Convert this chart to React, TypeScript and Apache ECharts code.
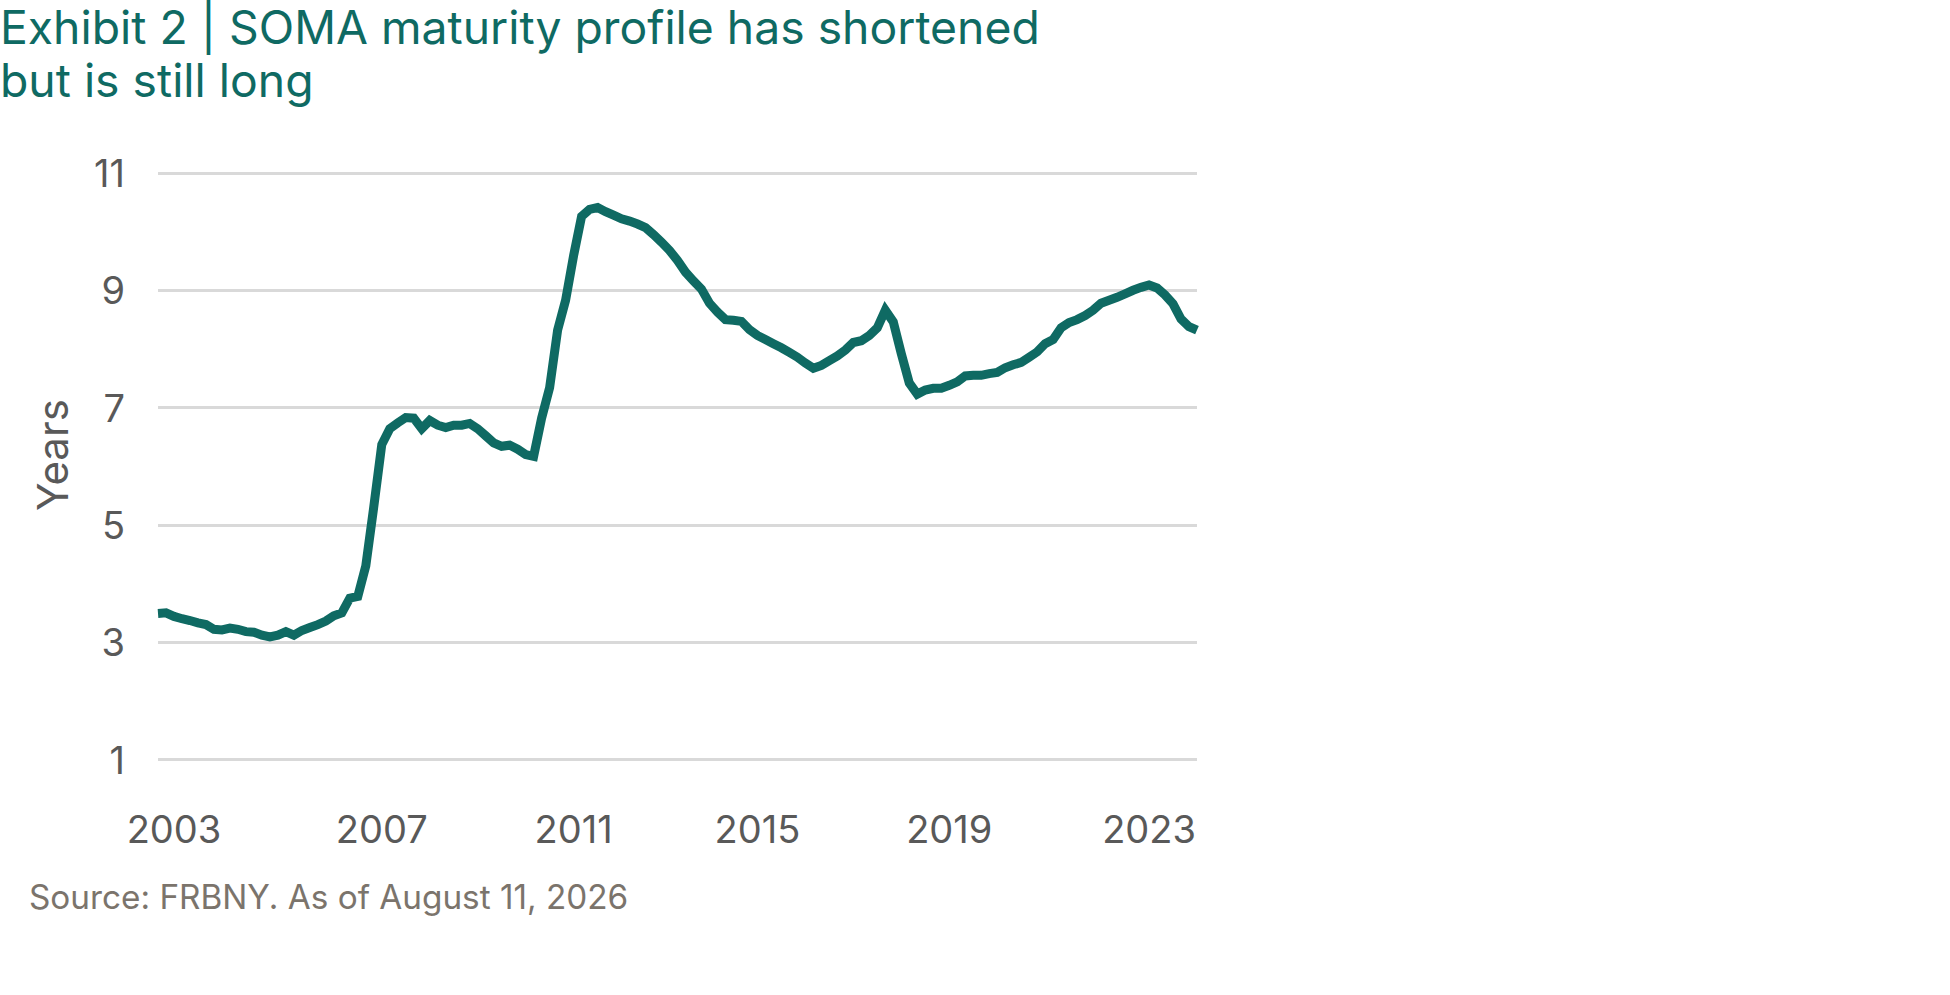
import React, { useEffect, useRef } from "react";
import * as echarts from "echarts";

// Tick labels and the observation index at which each one sits
const tickLabels = ["2003", "2007", "2011", "2015", "2019", "2023"];
const tickIndex = [2, 28, 52, 75, 99, 124];
const tickYears = [2003, 2007, 2011, 2015, 2019, 2023];

// Weighted average maturity of SOMA holdings, years
const maturityYears = [
  3.49, 3.5, 3.44, 3.4, 3.37, 3.33, 3.3, 3.22, 3.21, 3.24,
  3.22, 3.18, 3.17, 3.12, 3.09, 3.12, 3.18, 3.12, 3.2, 3.25,
  3.3, 3.36, 3.45, 3.5, 3.75, 3.78, 4.3, 5.31, 6.37, 6.64,
  6.74, 6.83, 6.82, 6.64, 6.78, 6.7, 6.66, 6.7, 6.7, 6.73,
  6.64, 6.52, 6.4, 6.34, 6.36, 6.29, 6.2, 6.17, 6.82, 7.34,
  8.32, 8.83, 9.59, 10.26, 10.38, 10.41, 10.34, 10.28, 10.22, 10.18,
  10.13, 10.07, 9.95, 9.82, 9.68, 9.51, 9.31, 9.16, 9.02, 8.78,
  8.63, 8.5, 8.49, 8.47, 8.33, 8.23, 8.16, 8.09, 8.02, 7.94,
  7.86, 7.76, 7.67, 7.72, 7.8, 7.88, 7.98, 8.11, 8.14, 8.23,
  8.36, 8.66, 8.46, 7.92, 7.42, 7.23, 7.3, 7.33, 7.33, 7.38,
  7.44, 7.54, 7.55, 7.55, 7.58, 7.6, 7.68, 7.73, 7.77, 7.86,
  7.95, 8.09, 8.16, 8.36, 8.45, 8.5, 8.57, 8.66, 8.78, 8.83,
  8.88, 8.94, 9.0, 9.05, 9.09, 9.04, 8.92, 8.77, 8.51, 8.38,
  8.32,
];

// Observation dates (categories), placed between the labelled year anchors
function buildCategories(n: number): string[] {
  const out: string[] = [];
  for (let i = 0; i < n; i++) {
    let k = 0;
    while (k < tickIndex.length - 2 && i > tickIndex[k + 1]) k++;
    const i0 = tickIndex[k];
    const i1 = tickIndex[k + 1];
    const y = tickYears[k] + ((i - i0) / (i1 - i0)) * (tickYears[k + 1] - tickYears[k]);
    const yr = Math.floor(y + 1e-9);
    const m = Math.min(12, Math.floor((y - yr) * 12 + 1e-6) + 1);
    out.push(`${yr}-${String(m).padStart(2, "0")}`);
  }
  return out;
}
const categories = buildCategories(maturityYears.length);

const TEAL = "#0f6a63";
const AXIS_TEXT = "#595959";
const SOURCE_TEXT = "#7b746c";
const FONT = "Inter, 'Noto Sans', sans-serif";

export default function App() {
  const ref = useRef<HTMLDivElement>(null);

  useEffect(() => {
    document.body.style.margin = "0";
    if (!ref.current) return;
    const chart = echarts.init(ref.current, undefined, { renderer: "svg" });
    chart.setOption({
      animation: false,
      backgroundColor: "#ffffff",
      textStyle: { fontFamily: FONT },
      grid: { left: 158, right: 753, top: 173, bottom: 235.5, containLabel: false },
      xAxis: {
        type: "category",
        data: categories,
        boundaryGap: false,
        axisLine: { show: false },
        axisTick: { show: false },
        splitLine: { show: false },
        axisLabel: {
          interval: (index: number) => tickIndex.indexOf(index) >= 0,
          formatter: (_v: string, index: number) => {
            const k = tickIndex.indexOf(index);
            return k >= 0 ? tickLabels[k] : "";
          },
          color: AXIS_TEXT,
          fontFamily: FONT,
          fontSize: 38,
          margin: 50,
        },
      },
      yAxis: {
        type: "value",
        min: 1,
        max: 11,
        interval: 2,
        axisLine: { show: false },
        axisTick: { show: false },
        axisLabel: { color: AXIS_TEXT, fontFamily: FONT, fontSize: 38, margin: 33 },
        splitLine: { show: true, lineStyle: { color: "#d9d9d9", width: 3 } },
      },
      graphic: [
        {
          type: "text",
          x: 0,
          y: 27,
          style: {
            text: "Exhibit 2 | SOMA maturity profile has shortened",
            fill: TEAL,
            font: `46.3px ${FONT}`,
            align: "left",
            verticalAlign: "middle",
          },
        },
        {
          type: "text",
          x: 0,
          y: 80,
          style: {
            text: "but is still long",
            fill: TEAL,
            font: `46.3px ${FONT}`,
            align: "left",
            verticalAlign: "middle",
          },
        },
        {
          type: "text",
          x: 52,
          y: 455,
          rotation: Math.PI / 2,
          style: {
            text: "Years",
            fill: AXIS_TEXT,
            font: `42px ${FONT}`,
            align: "center",
            verticalAlign: "middle",
          },
        },
        {
          type: "text",
          x: 29,
          y: 897,
          style: {
            text: "Source: FRBNY. As of August 11, 2026",
            fill: SOURCE_TEXT,
            font: `33.3px ${FONT}`,
            align: "left",
            verticalAlign: "middle",
          },
        },
      ],
      series: [
        {
          type: "line",
          data: maturityYears,
          showSymbol: false,
          smooth: false,
          lineStyle: { color: TEAL, width: 9, join: "miter" },
          itemStyle: { color: TEAL },
        },
      ],
    });
    return () => chart.dispose();
  }, []);

  return <div ref={ref} style={{ width: 1950, height: 995 }} />;
}
